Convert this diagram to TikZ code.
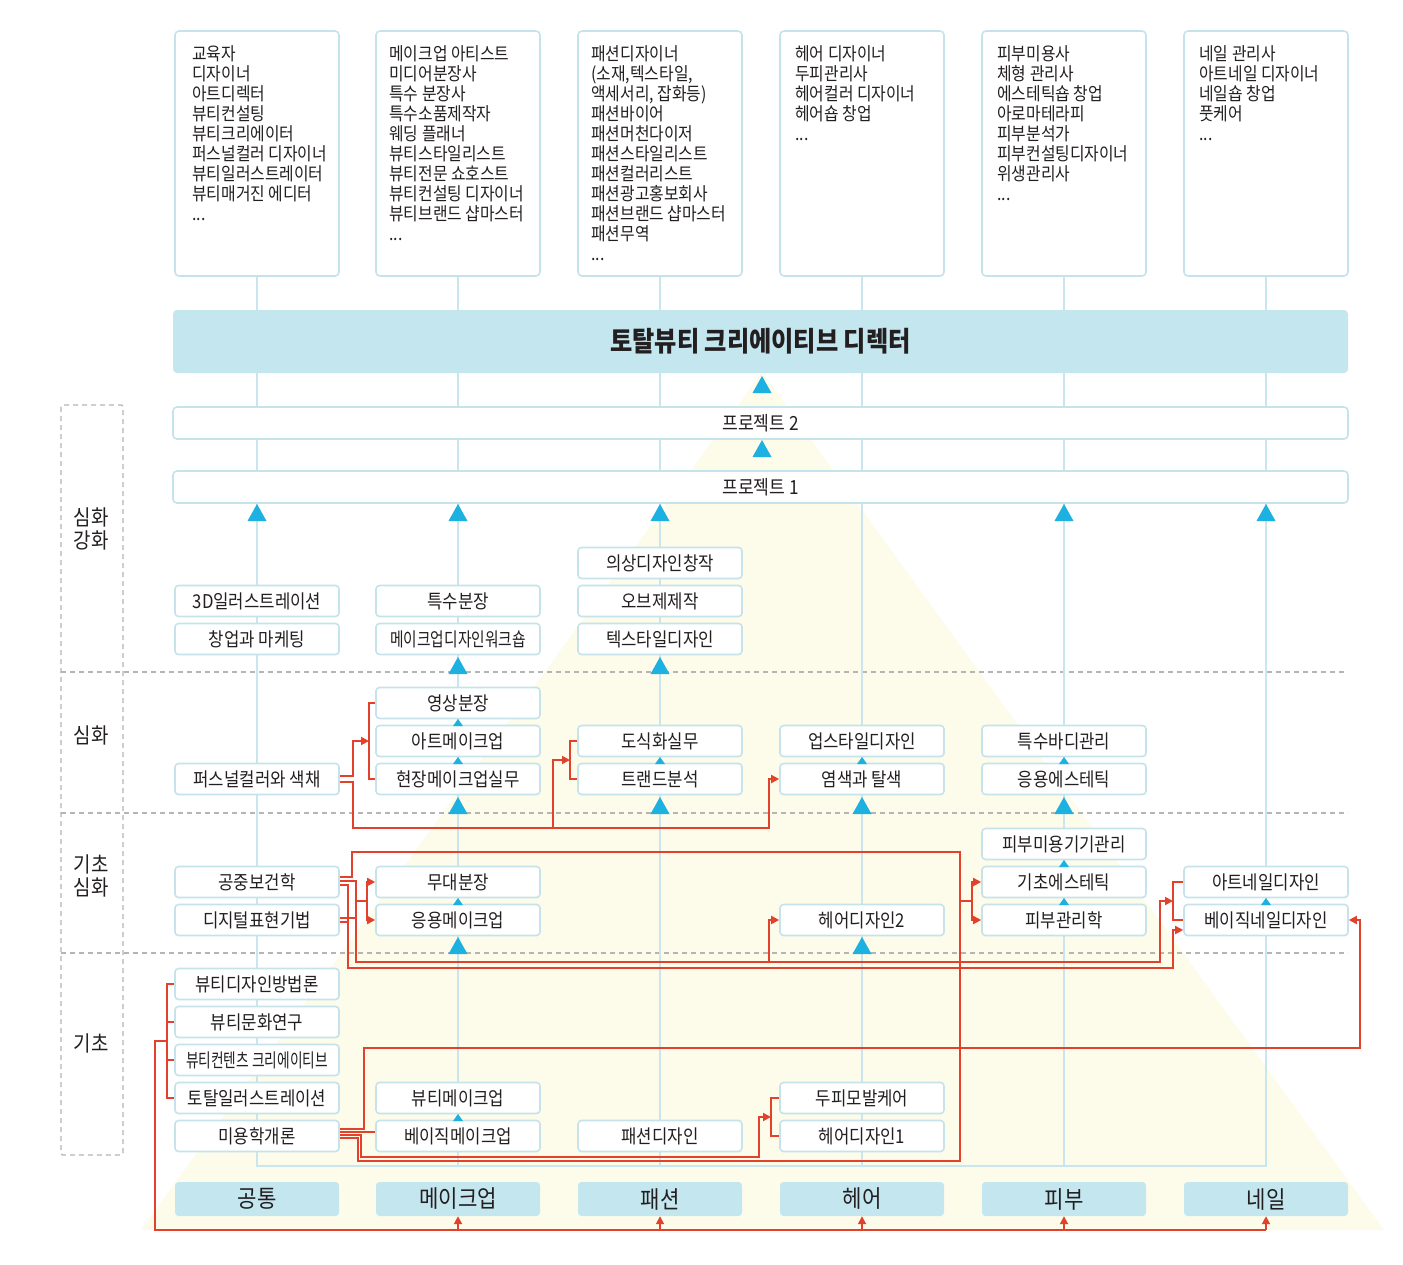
\documentclass[tikz,border=0pt]{standalone}
\usepackage{graphicx}
\usepackage{fontspec}
\setmainfont{Noto Sans CJK KR}[FakeStretch=0.88]
\usetikzlibrary{arrows.meta,calc}
\pgfdeclarelayer{bg}
\pgfsetlayers{bg,main}
\definecolor{lb}{HTML}{C4E6EF}
\definecolor{bd}{HTML}{C6E3EC}
\definecolor{cl}{HTML}{C9E6EF}
\definecolor{cy}{HTML}{1DB1E2}
\definecolor{rd}{HTML}{E2412C}
\definecolor{cr}{HTML}{FDFBEA}
\definecolor{dg}{HTML}{B5B5B5}
\definecolor{tx}{HTML}{231F20}
\newcommand\sqz[2]{\scalebox{#1}[1]{#2}}
\newcommand\BigTri[2]{\fill[cy] (#1,#2) -- (#1+9.5,#2+17) -- (#1-9.5,#2+17) -- cycle;}
\newcommand\SmallTri[2]{\fill[cy] (#1,#2) -- (#1+5,#2+7) -- (#1-5,#2+7) -- cycle;}
\begin{document}
\begin{tikzpicture}[x=1pt,y=-1pt,
  bx/.style={draw=bd,line width=1.6pt,fill=white,rounded corners=3.5pt,minimum width=164pt,minimum height=31pt,inner sep=0pt,text=tx,font=\fontsize{19}{22}\selectfont},
  cat/.style={fill=lb,rounded corners=3.5pt,minimum width=164pt,minimum height=34pt,inner sep=0pt,text=tx,font=\fontsize{24}{28}\selectfont},
  topbox/.style={draw=bd,line width=1.6pt,fill=white,rounded corners=4pt,minimum width=164pt,minimum height=245pt,inner sep=0pt},
  toptext/.style={anchor=north west,align=left,inner sep=0pt,text=tx,font=\fontsize{18}{20}\selectfont},
  bar/.style={draw=bd,line width=1.6pt,fill=white,rounded corners=4pt,minimum width=1175pt,minimum height=32pt,inner sep=0pt,text=tx,font=\fontsize{19.5}{22}\selectfont},
  side/.style={align=center,inner sep=0pt,text=tx,font=\fontsize{21.5}{23}\selectfont},
  col/.style={draw=cl,line width=1.5pt},
  red/.style={draw=rd,line width=1.8pt},
  rarr/.style={red,-{Triangle[length=8pt,width=8pt]}},
  dsh/.style={draw=dg,line width=1.3pt,dash pattern=on 5pt off 4pt},
]
\useasboundingbox (0,0) rectangle (1403,1264);

% ---------- top boxes ----------
\node[topbox] (t1) at (257,153.5) {};
\node[topbox] (t2) at (458,153.5) {};
\node[topbox] (t3) at (660,153.5) {};
\node[topbox] (t4) at (862,153.5) {};
\node[topbox] (t5) at (1064,153.5) {};
\node[topbox] (t6) at (1266,153.5) {};
\node[toptext] (tt1) at ([xshift=18pt,yshift=-15pt]t1.north west) {교육자\\디자이너\\아트디렉터\\뷰티컨설팅\\뷰티크리에이터\\퍼스널컬러 디자이너\\뷰티일러스트레이터\\뷰티매거진 에디터\\...};
\node[toptext] (tt2) at ([xshift=14pt,yshift=-15pt]t2.north west) {메이크업 아티스트\\미디어분장사\\특수 분장사\\특수소품제작자\\웨딩 플래너\\뷰티스타일리스트\\뷰티전문 쇼호스트\\뷰티컨설팅 디자이너\\뷰티브랜드 샵마스터\\...};
\node[toptext] (tt3) at ([xshift=14pt,yshift=-15pt]t3.north west) {패션디자이너\\(소재,텍스타일,\\액세서리, 잡화등)\\패션바이어\\패션머천다이저\\패션스타일리스트\\패션컬러리스트\\패션광고홍보회사\\패션브랜드 샵마스터\\패션무역\\...};
\node[toptext] (tt4) at ([xshift=16pt,yshift=-15pt]t4.north west) {헤어 디자이너\\두피관리사\\헤어컬러 디자이너\\헤어숍 창업\\...};
\node[toptext] (tt5) at ([xshift=16pt,yshift=-15pt]t5.north west) {피부미용사\\체형 관리사\\에스테틱숍 창업\\아로마테라피\\피부분석가\\피부컨설팅디자이너\\위생관리사\\...};
\node[toptext] (tt6) at ([xshift=16pt,yshift=-15pt]t6.north west) {네일 관리사\\아트네일 디자이너\\네일숍 창업\\풋케어\\...};

% ---------- title and project bars ----------
\node[fill=lb,rounded corners=4pt,minimum width=1175pt,minimum height=63pt,inner sep=0pt,text=tx,font=\bfseries\fontsize{27.5}{30}\selectfont] (title) at (760.5,341.5) {토탈뷰티 크리에이티브 디렉터};
\node[bar] (p2) at (760.5,423) {프로젝트 2};
\node[bar] (p1) at (760.5,487) {프로젝트 1};

% ---------- side labels ----------
\node[side] (s1) at (91,529) {심화\\강화};
\node[side] (s2) at (91,735) {심화};
\node[side] (s3) at (91,876) {기초\\심화};
\node[side] (s4) at (91,1043) {기초};

% ---------- column 1 ----------
\node[bx] (a3d) at (257,601) {3D일러스트레이션};
\node[bx] (startup) at (257,639) {창업과 마케팅};
\node[bx] (personal) at (257,779) {퍼스널컬러와 색채};
\node[bx] (pubhealth) at (257,882) {공중보건학};
\node[bx] (digital) at (257,920) {디지털표현기법};
\node[bx] (bdm) at (257,984) {뷰티디자인방법론};
\node[bx] (bcs) at (257,1022) {뷰티문화연구};
\node[bx] (bcc) at (257,1060) {\sqz{0.82}{뷰티컨텐츠 크리에이티브}};
\node[bx] (tillu) at (257,1098) {토탈일러스트레이션};
\node[bx] (intro) at (257,1136) {미용학개론};
% ---------- column 2 ----------
\node[bx] (sfx) at (458,601) {특수분장};
\node[bx] (mdw) at (458,639) {\sqz{0.88}{메이크업디자인워크숍}};
\node[bx] (video) at (458,703) {영상분장};
\node[bx] (art) at (458,741) {아트메이크업};
\node[bx] (field) at (458,779) {현장메이크업실무};
\node[bx] (stage) at (458,882) {무대분장};
\node[bx] (applied) at (458,920) {응용메이크업};
\node[bx] (beauty) at (458,1098) {뷰티메이크업};
\node[bx] (basic) at (458,1136) {베이직메이크업};
% ---------- column 3 ----------
\node[bx] (cloth) at (660,563) {의상디자인창작};
\node[bx] (objet) at (660,601) {오브제제작};
\node[bx] (textile) at (660,639) {텍스타일디자인};
\node[bx] (drawing) at (660,741) {도식화실무};
\node[bx] (trend) at (660,779) {트랜드분석};
\node[bx] (fashion) at (660,1136) {패션디자인};
% ---------- column 4 ----------
\node[bx] (updo) at (862,741) {업스타일디자인};
\node[bx] (dye) at (862,779) {염색과 탈색};
\node[bx] (hair2) at (862,920) {헤어디자인2};
\node[bx] (scalp) at (862,1098) {두피모발케어};
\node[bx] (hair1) at (862,1136) {헤어디자인1};
% ---------- column 5 ----------
\node[bx] (body) at (1064,741) {특수바디관리};
\node[bx] (appest) at (1064,779) {응용에스테틱};
\node[bx] (device) at (1064,844) {피부미용기기관리};
\node[bx] (basest) at (1064,882) {기초에스테틱};
\node[bx] (skin) at (1064,920) {피부관리학};
% ---------- column 6 ----------
\node[bx] (artnail) at (1266,882) {아트네일디자인};
\node[bx] (basicnail) at (1266,920) {베이직네일디자인};
% ---------- categories ----------
\node[cat] (c1) at (257,1199) {공통};
\node[cat] (c2) at (458,1199) {메이크업};
\node[cat] (c3) at (660,1199) {패션};
\node[cat] (c4) at (862,1199) {헤어};
\node[cat] (c5) at (1064,1199) {피부};
\node[cat] (c6) at (1266,1199) {네일};

% ---------- background layer ----------
\begin{pgfonlayer}{bg}
\fill[white] (0,0) rectangle (1403,1264);
\fill[cr] (762,372) -- (1384,1230) -- (141,1230) -- cycle;
\draw[dsh,rounded corners=2pt] (61,405) rectangle (123,1155);
\draw[dsh] (61,672) -- (1348,672);
\draw[dsh] (61,813) -- (1348,813);
\draw[dsh] (61,953) -- (1348,953);
\foreach \i in {1,...,6} {\draw[col] (t\i.south) -- ++(0,890);}
\draw[col] (t1.south |- 0,1166) -- (t6.south |- 0,1166);
\end{pgfonlayer}

% ---------- cyan arrowheads ----------
\BigTri{762}{376}
\BigTri{762}{440}
\foreach \x in {257,458,660,1064,1266} {\BigTri{\x}{504}}
\foreach \x in {458,660} {\BigTri{\x}{657}}
\foreach \x in {458,660,862,1064} {\BigTri{\x}{797}}
\foreach \x in {458,862} {\BigTri{\x}{937}}
\SmallTri{458}{719}
\foreach \x in {458,660,862,1064} {\SmallTri{\x}{757}}
\SmallTri{1064}{860}
\foreach \x in {458,1064,1266} {\SmallTri{\x}{898}}
\SmallTri{458}{1114}

% ---------- red connectors ----------
% personal colour -> 영상/아트/현장 bracket
\draw[rarr] ([yshift=3pt]personal.east) -- (353,776) -- (353,741) -- (369,741);
\draw[red] (video.west) -- (369,703) -- (369,779) -- (field.west);
% personal colour -> 도식화/트랜드 and 염색
\draw[rarr] ([yshift=-3pt]personal.east) -- (353,782) -- (353,828) -- (769,828) -- (769,779) -- (dye.west);
\draw[rarr] (553,828) -- (553,760) -- (570,760);
\draw[red] (drawing.west) -- (570,741) -- (570,779) -- (trend.west);
% 공중보건학 top loop with 미용학개론 -> 기초에스테틱/피부관리학
\draw[red] ([yshift=5pt]pubhealth.east) -- (352,877) -- (352,852) -- (960,852) -- (960,1161) -- (358,1161) -- (358,1138) -- ([yshift=-2pt]intro.east);
\draw[red] (960,901) -- (972,901);
\draw[rarr] (972,901) |- (basest.west);
\draw[rarr] (972,901) |- (skin.west);
% 공중보건학/디지털 -> 무대/응용, 헤어디자인2, 아트네일 bracket
\draw[rarr] ([yshift=1pt]pubhealth.east) -- (356,881) -- (356,962) -- (1160,962) -- (1160,901) -- (1173,901);
\draw[red] ([yshift=2pt]digital.east) -- (356,918);
\draw[red] (356,901) -- (367,901);
\draw[rarr] (367,901) |- (stage.west);
\draw[rarr] (367,901) |- (applied.west);
\draw[rarr] (769,962) -- (769,920) -- (hair2.west);
\draw[red] (artnail.west) -- (1173,882) -- (1173,920) -- (basicnail.west);
% 공중보건학/디지털 -> 베이직네일
\draw[rarr] ([yshift=-3pt]pubhealth.east) -- (348,885) -- (348,968) -- (1173,968) -- (1173,930) -- ([yshift=-10pt]basicnail.west);
\draw[red] ([yshift=-2pt]digital.east) -- (348,922);
% 미용학개론
\draw[rarr] ([yshift=7pt]intro.east) -- (364,1129) -- (364,1048) -- (1360,1048) -- (1360,920) -- (basicnail.east);
\draw[red] ([yshift=4pt]intro.east) -- ([yshift=4pt]basic.west);
\draw[rarr] ([yshift=1pt]intro.east) -- (361,1135) -- (361,1157) -- (759,1157) -- (759,1117) -- (771,1117);
\draw[red] (scalp.west) -- (771,1098) -- (771,1136) -- (hair1.west);
% 기초 bracket -> categories
\draw[red] (bdm.west) -- (167,984) -- (167,1098) -- (tillu.west);
\draw[red] (bcs.west) -- (167,1022);
\draw[red] (bcc.west) -- (167,1060);
\draw[red] (167,1041) -- (155,1041) -- (155,1230) -- (1266,1230);
\foreach \c in {c2,c3,c4,c5,c6} {\draw[rarr] (\c.south |- 0,1230) -- (\c.south);}
\end{tikzpicture}
\end{document}
